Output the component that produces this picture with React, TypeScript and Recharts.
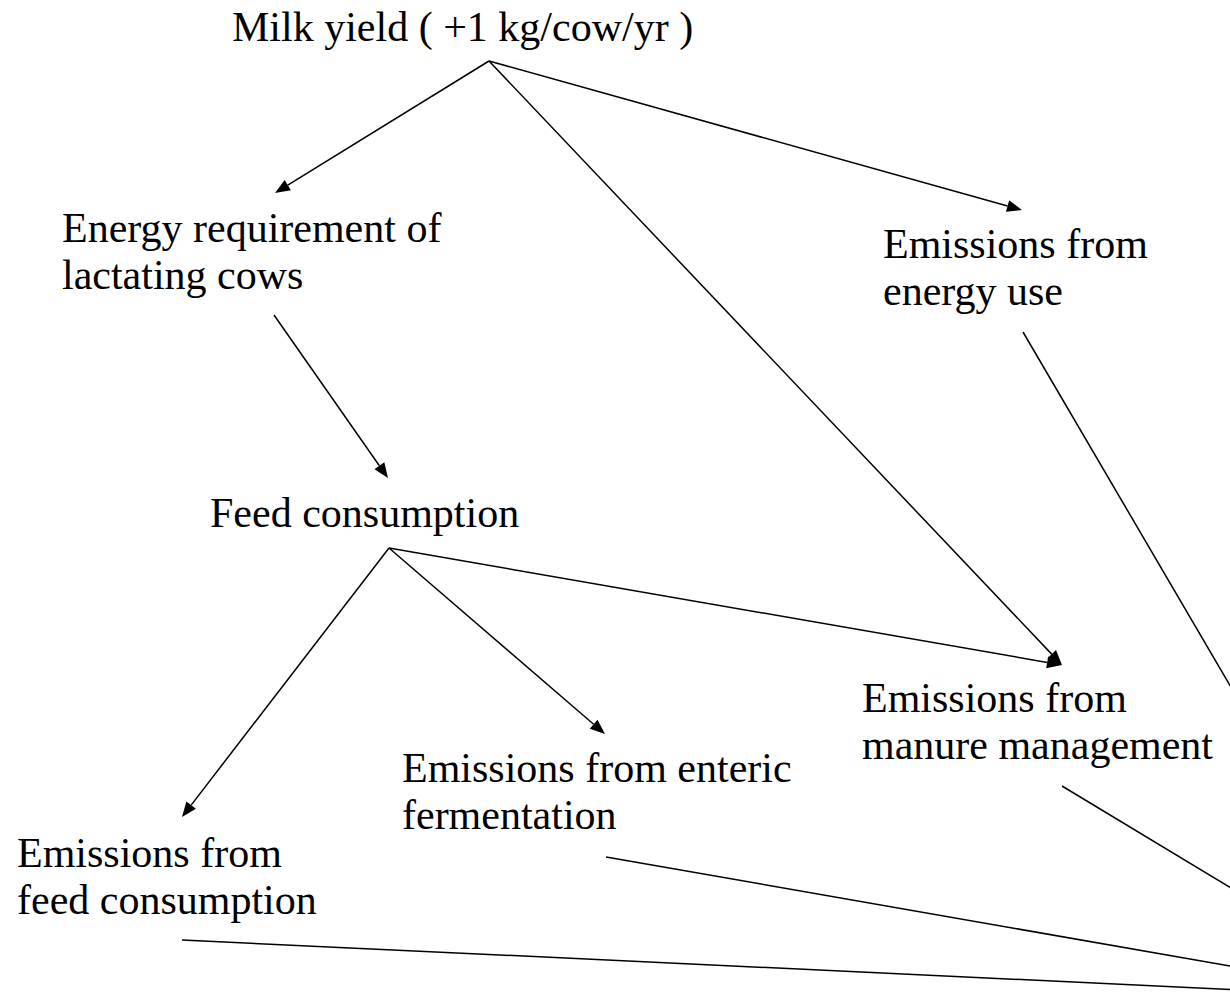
import React from "react";
import { ScatterChart, Scatter, XAxis, YAxis, ReferenceLine } from "recharts";

// nodes: left edge of the text and baseline of its first line (page pixels)
const nodeLabels = [
  ["Milk yield ( +1 kg/cow/yr )"],
  ["Energy requirement of", "lactating cows"],
  ["Emissions from", "energy use"],
  ["Feed consumption"],
  ["Emissions from", "manure management"],
  ["Emissions from enteric", "fermentation"],
  ["Emissions from", "feed consumption"],
];
const nodeX = [232, 62, 883, 210, 862, 402, 17];
const nodeY = [41, 242, 258, 527, 712, 782, 867];

// edges: start point, end point, arrowhead or not
const edgeFrom = [
  [489, 61],
  [489, 61],
  [489, 61],
  [274, 315],
  [389, 548],
  [389, 548],
  [389, 548],
  [1023, 332],
  [1062, 786],
  [606, 857],
  [182, 940],
];
const edgeTo = [
  [275, 193],
  [1062, 665],
  [1022, 210],
  [388, 478],
  [182, 817],
  [605, 734],
  [1062, 665],
  [1413, 998],
  [1413, 998],
  [1413, 998],
  [1413, 998],
];
const edgeArrow = [true, true, true, true, true, true, true, false, false, false, false];

const W = 1230;
const H = 1006;
const FONT = "'Liberation Serif', 'Times New Roman', serif";

const nodes = nodeLabels.map((lines, i) => ({ x: nodeX[i], y: nodeY[i], lines }));

const NodeText = (props: any) => {
  const { cx, cy, payload } = props;
  return (
    <text x={cx} y={cy} fontFamily={FONT} fontSize={42} fill="#000">
      {payload.lines.map((l: string, i: number) => (
        <tspan key={i} x={cx} dy={i === 0 ? 0 : 47}>
          {l}
        </tspan>
      ))}
    </text>
  );
};

const makeEdge = (arrow: boolean) => (props: any) => {
  const { x1, y1, x2, y2 } = props;
  if (!arrow) {
    return <line x1={x1} y1={y1} x2={x2} y2={y2} stroke="#000" strokeWidth={1.5} />;
  }
  const dx = x2 - x1;
  const dy = y2 - y1;
  const len = Math.sqrt(dx * dx + dy * dy);
  const ux = dx / len;
  const uy = dy / len;
  const L = 15;
  const hw = 6;
  const bx = x2 - ux * L;
  const by = y2 - uy * L;
  const pts = `${x2},${y2} ${bx - uy * hw},${by + ux * hw} ${bx + uy * hw},${by - ux * hw}`;
  return (
    <g>
      <line x1={x1} y1={y1} x2={bx} y2={by} stroke="#000" strokeWidth={1.5} />
      <polygon points={pts} fill="#000" />
    </g>
  );
};

export default function App() {
  return (
    <div style={{ position: "absolute", left: 0, top: 0, background: "#fff" }}>
      <ScatterChart width={W} height={H} margin={{ top: 0, right: 0, bottom: 0, left: 0 }}>
        <XAxis type="number" dataKey="x" domain={[0, W]} hide allowDataOverflow />
        <YAxis type="number" dataKey="y" domain={[0, H]} reversed hide allowDataOverflow />
        {edgeFrom.map((f, i) => (
          <ReferenceLine
            key={i}
            segment={[
              { x: f[0], y: f[1] },
              { x: edgeTo[i][0], y: edgeTo[i][1] },
            ]}
            ifOverflow="hidden"
            shape={makeEdge(edgeArrow[i])}
          />
        ))}
        <Scatter data={nodes} shape={<NodeText />} isAnimationActive={false} />
      </ScatterChart>
    </div>
  );
}
